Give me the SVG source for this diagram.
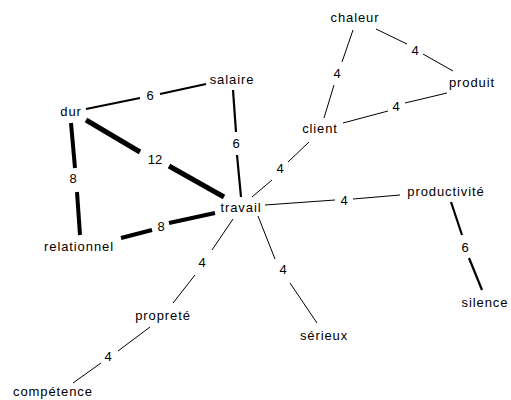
<svg xmlns="http://www.w3.org/2000/svg" width="511" height="400" viewBox="0 0 511 400">
<style>
.n{font-family:"Liberation Sans",Arial,sans-serif;font-size:13px;letter-spacing:0.9px;fill:#000;text-anchor:middle}
.w{font-family:"Liberation Sans",Arial,sans-serif;font-size:13px;fill:#000;text-anchor:middle}
.e line{stroke:#000;stroke-linecap:butt}
.t1{stroke-width:1}
.t6{stroke-width:2.2}
.t8{stroke-width:4}
.t12{stroke-width:5}
</style>
<rect width="511" height="400" fill="#fff"/>
<g id="connectors" class="e">
  <line class="t6" x1="86" y1="109" x2="140" y2="98"/>
  <line class="t6" x1="160" y1="94" x2="206" y2="84"/>
  <line class="t12" x1="86" y1="120" x2="140" y2="152"/>
  <line class="t12" x1="169" y1="166" x2="224" y2="197"/>
  <line class="t8" x1="71" y1="123" x2="75" y2="168"/>
  <line class="t8" x1="77" y1="192" x2="80" y2="235"/>
  <line class="t6" x1="233" y1="90" x2="236" y2="132"/>
  <line class="t6" x1="237" y1="155" x2="241" y2="197"/>
  <line class="t8" x1="121" y1="238" x2="152" y2="230"/>
  <line class="t8" x1="169" y1="223" x2="215" y2="213"/>
  <line class="t1" x1="353" y1="30" x2="342" y2="62"/>
  <line class="t1" x1="334" y1="85" x2="324" y2="118"/>
  <line class="t1" x1="376" y1="29" x2="407" y2="44"/>
  <line class="t1" x1="423" y1="54" x2="453" y2="71"/>
  <line class="t1" x1="343" y1="123" x2="388" y2="111"/>
  <line class="t1" x1="405" y1="103" x2="447" y2="93"/>
  <line class="t1" x1="309" y1="142" x2="288" y2="162"/>
  <line class="t1" x1="272" y1="180" x2="252" y2="197"/>
  <line class="t1" x1="265" y1="205" x2="335" y2="200"/>
  <line class="t1" x1="353" y1="199" x2="400" y2="195"/>
  <line class="t6" x1="451" y1="202" x2="462" y2="235"/>
  <line class="t6" x1="469" y1="258" x2="482" y2="290"/>
  <line class="t1" x1="258" y1="216" x2="275" y2="259"/>
  <line class="t1" x1="290" y1="283" x2="317" y2="323"/>
  <line class="t1" x1="233" y1="219" x2="212" y2="250"/>
  <line class="t1" x1="195" y1="275" x2="173" y2="303"/>
  <line class="t1" x1="150" y1="327" x2="118" y2="351"/>
  <line class="t1" x1="101" y1="363" x2="73" y2="383"/>
</g>
<g id="edge-labels">
  <text class="w" x="150" y="100">6</text>
  <text class="w" x="155" y="164">12</text>
  <text class="w" x="73" y="183">8</text>
  <text class="w" x="236" y="148">6</text>
  <text class="w" x="161" y="231">8</text>
  <text class="w" x="337" y="78">4</text>
  <text class="w" x="415" y="55">4</text>
  <text class="w" x="396" y="111">4</text>
  <text class="w" x="280" y="173">4</text>
  <text class="w" x="344" y="205">4</text>
  <text class="w" x="465" y="252">6</text>
  <text class="w" x="283" y="274">4</text>
  <text class="w" x="202" y="267">4</text>
  <text class="w" x="108" y="361">4</text>
</g>
<g id="chaleur"><text class="n" x="355" y="22">chaleur</text></g>
<g id="produit"><text class="n" x="472" y="87">produit</text></g>
<g id="client"><text class="n" x="320" y="133">client</text></g>
<g id="dur"><text class="n" x="71" y="116">dur</text></g>
<g id="salaire"><text class="n" x="232" y="84">salaire</text></g>
<g id="travail"><text class="n" x="241" y="212">travail</text></g>
<g id="relationnel"><text class="n" x="79" y="251">relationnel</text></g>
<g id="productivite"><text class="n" x="446" y="196">productivité</text></g>
<g id="silence"><text class="n" x="485" y="307">silence</text></g>
<g id="serieux"><text class="n" x="324" y="340">sérieux</text></g>
<g id="proprete"><text class="n" x="163" y="320">propreté</text></g>
<g id="competence"><text class="n" x="53" y="396">compétence</text></g>
</svg>
